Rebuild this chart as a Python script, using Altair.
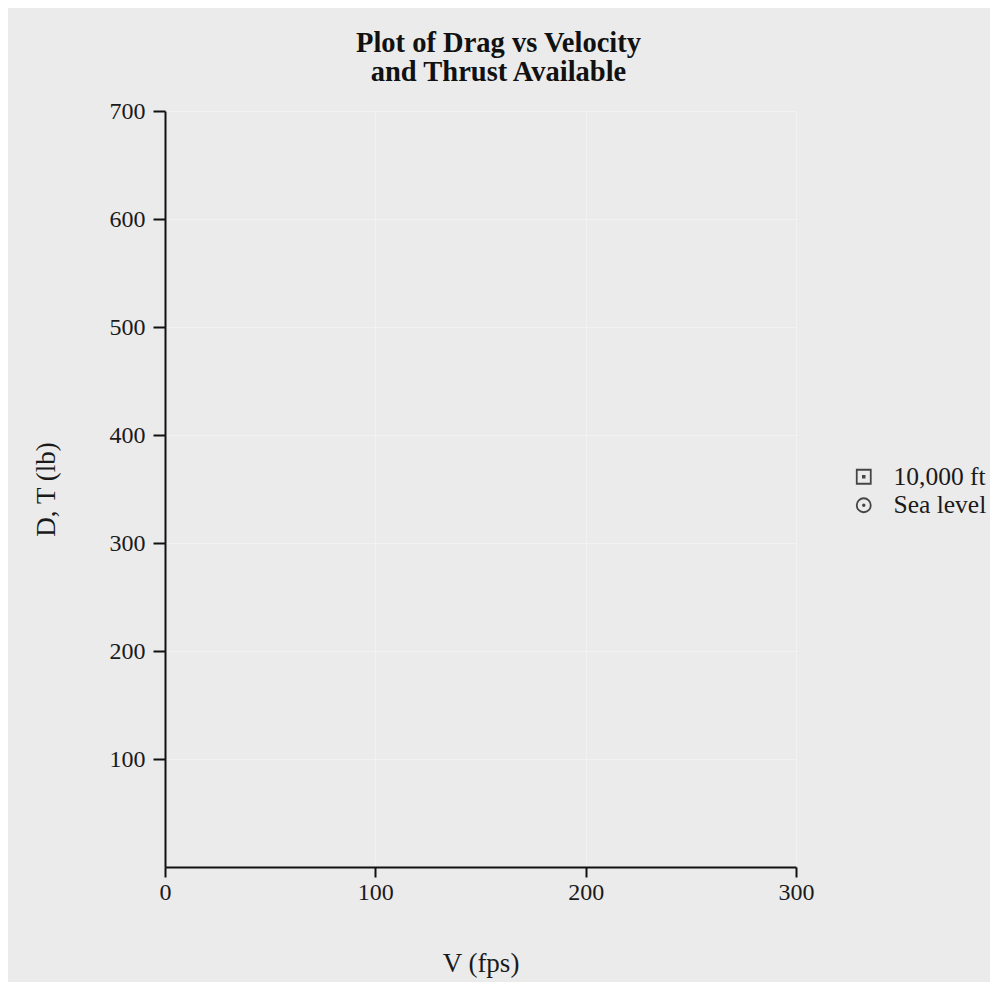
import altair as alt
import pandas as pd

# Series shown in the legend (the reference plot contains no plotted data)
series = ["10,000 ft", "Sea level"]
velocity = [None, None]
drag = [None, None]

x_ticks = [0, 100, 200, 300]
y_ticks = [100, 200, 300, 400, 500, 600, 700]

df = pd.DataFrame({"Altitude": series, "V": velocity, "D": drag})

FONT = "Liberation Serif"
BG = "#ebebeb"

square_dot = "M-1,-1H1V1H-1Z M-0.12,-0.12H0.12V0.12H-0.12Z"
circle_dot = ("M-1,0A1,1 0 1,0 1,0A1,1 0 1,0 -1,0Z "
              "M-0.12,0A0.12,0.12 0 1,0 0.12,0A0.12,0.12 0 1,0 -0.12,0Z")

chart = alt.Chart(df).mark_point(filled=False, color="black", size=196, strokeWidth=1.8).encode(
    x=alt.X("V:Q",
            scale=alt.Scale(domain=[0, 300], nice=False, zero=False),
            axis=alt.Axis(title="V (fps)", values=x_ticks, format="d", labelFlush=False,
                          tickSize=10, labelPadding=3, titlePadding=46)),
    y=alt.Y("D:Q",
            scale=alt.Scale(domain=[0, 700], nice=False),
            axis=alt.Axis(title="D, T (lb)", values=y_ticks, format="d",
                          tickSize=12, labelPadding=8, titlePadding=49)),
    shape=alt.Shape("Altitude:N",
                    scale=alt.Scale(domain=series, range=[square_dot, circle_dot]),
                    legend=alt.Legend(title=None, orient="none", legendX=686, legendY=353,
                                      padding=0, symbolSize=196, symbolStrokeWidth=1.8,
                                      symbolStrokeColor="black", symbolFillColor="transparent",
                                      labelFont=FONT, labelFontSize=25.5, labelColor="#1a1a1a",
                                      labelOffset=17, rowPadding=1.5)),
).properties(
    width=631,
    height=756,
    title=alt.TitleParams(
        text=["Plot of Drag vs Velocity", "and Thrust Available"],
        font=FONT, fontSize=28.5, fontWeight="bold", color="#111111",
        lineHeight=29, anchor="middle", dx=18, offset=13,
    ),
    background=BG,
    autosize=alt.AutoSizeParams(type="none"),
    padding={"left": 157, "top": 103, "right": 194, "bottom": 115},
).configure_view(
    stroke=None, fill=BG
).configure_axis(
    labelFont=FONT, labelFontSize=24, labelColor="#1a1a1a",
    titleFont=FONT, titleFontSize=27, titleFontWeight="normal", titleColor="#1a1a1a",
    domainColor="#111111", domainWidth=2, tickColor="#111111", tickWidth=2,
    gridColor="#f2f2f2", gridWidth=1,
)

chart.save("out.html", embed_options={"renderer": "svg", "actions": False})
